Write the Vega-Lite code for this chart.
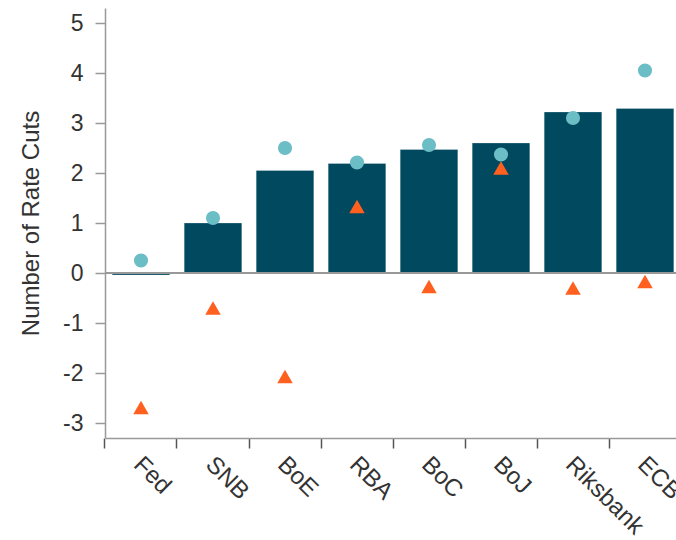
{
  "$schema": "https://vega.github.io/schema/vega-lite/v6.json",
  "autosize": {"type": "none"},
  "padding": {"left": 105, "top": 8, "right": 0, "bottom": 102},
  "width": 576,
  "height": 430,
  "background": "white",
  "config": {
    "view": {"stroke": null},
    "font": "Liberation Sans",
    "axis": {"labelFont": "Liberation Sans", "titleFont": "Liberation Sans", "labelColor": "#333333", "titleColor": "#333333", "grid": false}
  },
  "data": {
    "values": [
      {"bank": "Fed", "bar": -0.04, "circle": 0.25, "triangle": -2.69},
      {"bank": "SNB", "bar": 1.0, "circle": 1.1, "triangle": -0.7},
      {"bank": "BoE", "bar": 2.05, "circle": 2.5, "triangle": -2.07},
      {"bank": "RBA", "bar": 2.19, "circle": 2.21, "triangle": 1.33},
      {"bank": "BoC", "bar": 2.47, "circle": 2.56, "triangle": -0.27},
      {"bank": "BoJ", "bar": 2.6, "circle": 2.37, "triangle": 2.1},
      {"bank": "Riksbank", "bar": 3.22, "circle": 3.1, "triangle": -0.3},
      {"bank": "ECB", "bar": 3.29, "circle": 4.05, "triangle": -0.17}
    ]
  },
  "encoding": {
    "x": {
      "field": "bank", "type": "nominal", "sort": null,
      "scale": {"paddingInner": 0.2, "paddingOuter": 0.1},
      "axis": {
        "title": null, "labelAngle": 45, "labelAlign": "left", "labelBaseline": "top",
        "labelFontSize": 24, "labelPadding": 4, "labelOffset": 5, "bandPosition": -0.125,
        "tickSize": 10, "tickColor": "#555555", "tickWidth": 1.5,
        "domainColor": "#999999", "domainWidth": 1.5
      }
    }
  },
  "layer": [
    {
      "mark": {"type": "bar", "color": "#00495e", "stroke": "#ffffff", "strokeOpacity": 0.25, "strokeWidth": 1},
      "encoding": {
        "y": {
          "field": "bar", "type": "quantitative",
          "scale": {"domain": [-3.3, 5.3], "nice": false, "zero": false},
          "axis": {
            "title": "Number of Rate Cuts", "titleFontSize": 24, "titleFontWeight": "normal", "titlePadding": 19,
            "values": [-3, -2, -1, 0, 1, 2, 3, 4, 5], "labelExpr": "'' + datum.value",
            "labelFontSize": 23, "labelPadding": 12, "tickSize": 10, "tickColor": "#999999", "tickWidth": 1.5,
            "domainColor": "#999999", "domainWidth": 1.5
          }
        }
      }
    },
    {
      "mark": {"type": "rule", "color": "#999999", "strokeWidth": 1.5},
      "encoding": {"y": {"datum": 0, "type": "quantitative"}, "x": {"value": 0}, "x2": {"value": 576}}
    },
    {
      "mark": {"type": "point", "shape": "triangle-up", "filled": true, "color": "#ff5f1f", "opacity": 1, "size": 240},
      "encoding": {"y": {"field": "triangle", "type": "quantitative"}}
    },
    {
      "mark": {"type": "point", "shape": "circle", "filled": true, "color": "#6bbdc6", "opacity": 1, "size": 200},
      "encoding": {"y": {"field": "circle", "type": "quantitative"}}
    }
  ]
}
